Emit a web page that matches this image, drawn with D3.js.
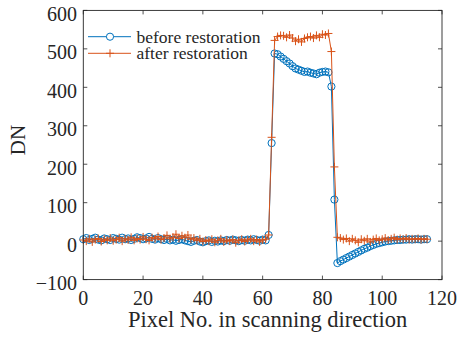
<!DOCTYPE html>
<html><head><meta charset="utf-8">
<script src="https://cdn.jsdelivr.net/npm/d3@7"></script>
<style>body{margin:0;background:#fff}svg{display:block}</style>
</head><body><svg id="c" width="459" height="337"></svg>
<script>
const xTicks = [0, 20, 40, 60, 80, 100, 120];
const yTicks = [-100, 0, 100, 200, 300, 400, 500, 600];
const seriesNames = ["before restoration", "after restoration"];
const before = [5,8,3,6,9,4,2,7,5,3,8,6,4,9,5,7,3,6,10,8,5,7,11,6,4,8,5,3,6,2,4,1,3,5,2,0,-2,1,3,-1,-3,0,2,-2,1,-1,2,0,3,1,4,2,0,3,1,4,2,5,3,1,4,2,16,255,488,486,480,474,468,462,455,449,446,443,440,441,438,436,434,438,440,441,439,402,108,-57,-52,-48,-44,-40,-36,-32,-28,-24,-20,-17,-13,-10,-7,-5,-3,-1,0,1,2,3,3,4,4,5,4,5,5,4,5,5];
const after = [3,0,6,-2,4,7,-1,5,2,8,1,4,9,0,6,3,10,2,7,4,11,5,2,9,6,12,4,8,15,6,10,18,7,14,9,16,5,8,2,6,-1,3,0,5,-3,2,6,-2,3,0,4,-4,2,5,-1,3,6,0,4,-2,3,5,16,270,522,532,535,534,530,536,528,520,525,518,527,530,532,528,535,530,538,536,540,493,193,10,8,4,7,0,6,2,-3,5,1,6,-2,4,7,2,5,8,3,6,9,4,7,5,8,4,6,5,7,4,6,5];
const colors = ["#0072BD", "#D95319"];

const svg = d3.select("#c");
const L = 83.3, R = 442, T = 10.4, B = 279.6;
const x = d3.scaleLinear().domain([0, 120]).range([L, R]);
const y = d3.scaleLinear().domain([-100, 600]).range([B, T]);
const font = "Liberation Serif, Times New Roman, serif";
const axisCol = "#262626";

// ticks inward on all sides
const tl = 4;
const g = svg.append("g").attr("stroke", axisCol).attr("stroke-width", 0.8);
xTicks.forEach(v => {
  g.append("line").attr("x1", x(v)).attr("x2", x(v)).attr("y1", B).attr("y2", B - tl);
  g.append("line").attr("x1", x(v)).attr("x2", x(v)).attr("y1", T).attr("y2", T + tl);
});
yTicks.forEach(v => {
  g.append("line").attr("x1", L).attr("x2", L + tl).attr("y1", y(v)).attr("y2", y(v));
  g.append("line").attr("x1", R).attr("x2", R - tl).attr("y1", y(v)).attr("y2", y(v));
});

// data
const data = [before, after];
data.forEach((arr, si) => {
  const pts = arr.map((v, i) => [i, v]);
  const grp = svg.append("g");
  grp.append("path").attr("d", d3.line().x(d => x(d[0])).y(d => y(d[1]))(pts))
    .attr("fill", "none").attr("stroke", colors[si]).attr("stroke-width", 1);
  if (si === 0) {
    grp.selectAll("circle").data(pts).join("circle")
      .attr("cx", d => x(d[0])).attr("cy", d => y(d[1])).attr("r", 3.6)
      .attr("fill", "none").attr("stroke", colors[si]).attr("stroke-width", 1);
  } else {
    const s = 4;
    grp.selectAll("path.p").data(pts).join("path").attr("class", "p")
      .attr("d", d => `M${x(d[0]) - s},${y(d[1])}H${x(d[0]) + s}M${x(d[0])},${y(d[1]) - s}V${y(d[1]) + s}`)
      .attr("stroke", colors[si]).attr("stroke-width", 1).attr("fill", "none");
  }
});

// frame
svg.append("rect").attr("x", L).attr("y", T).attr("width", R - L).attr("height", B - T)
  .attr("fill", "none").attr("stroke", axisCol).attr("stroke-width", 0.9);

// tick labels
xTicks.forEach(v => {
  svg.append("text").attr("x", x(v)).attr("y", B + 25.5).attr("text-anchor", "middle")
    .attr("font-family", font).attr("font-size", 20).attr("fill", axisCol).text(v);
});
yTicks.forEach(v => {
  svg.append("text").attr("x", 77).attr("y", y(v) + 10.5).attr("text-anchor", "end")
    .attr("font-family", font).attr("font-size", 20).attr("fill", axisCol)
    .text(v < 0 ? "\u2212" + Math.abs(v) : v);
});

// axis labels
svg.append("text").attr("x", (L + R) / 2 + 5).attr("y", 327).attr("text-anchor", "middle")
  .attr("font-family", font).attr("font-size", 22.5).attr("fill", axisCol).text("Pixel No. in scanning direction");
svg.append("text").attr("transform", "translate(25,140) rotate(-90)").attr("text-anchor", "middle")
  .attr("font-family", font).attr("font-size", 21).attr("fill", axisCol).text("DN");

// legend
const ly = [36.7, 53.3];
seriesNames.forEach((n, i) => {
  const lg = svg.append("g");
  lg.append("line").attr("x1", 88).attr("x2", 131).attr("y1", ly[i]).attr("y2", ly[i])
    .attr("stroke", colors[i]).attr("stroke-width", 1);
  if (i === 0) {
    lg.append("circle").attr("cx", 110).attr("cy", ly[i]).attr("r", 3.6)
      .attr("fill", "#fff").attr("stroke", colors[i]).attr("stroke-width", 1);
  } else {
    lg.append("path").attr("d", `M106,${ly[i]}H114M110,${ly[i] - 4}V${ly[i] + 4}`)
      .attr("stroke", colors[i]).attr("stroke-width", 1);
  }
  lg.append("text").attr("x", 136.5).attr("y", ly[i] + 6).attr("font-family", font)
    .attr("font-size", 17.5).attr("fill", axisCol).text(n);
});
</script></body></html>
